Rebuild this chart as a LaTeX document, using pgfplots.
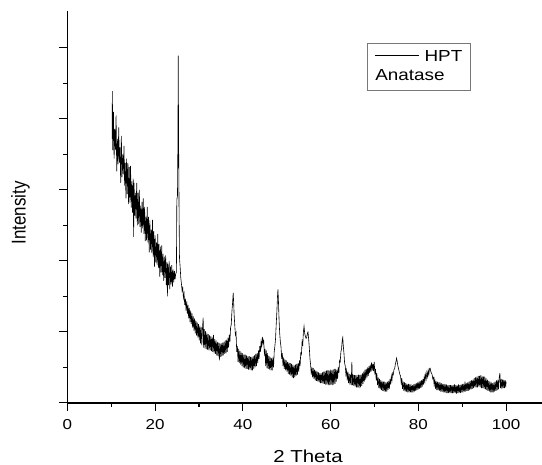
\documentclass[border=0pt]{standalone}
\usepackage{fontspec}
\setmainfont{Liberation Sans}[FakeStretch=1.18]
\newfontfamily\ylabfont{Liberation Sans}
\usepackage{graphicx}
\usepackage{pgfplots}
\usepackage{pgfplotstable}
\pgfplotsset{compat=1.18}

% HPT diffractogram (noise band written as upper/lower points)
\pgfplotstableread{
t I
10.20 372
10.25 439
10.35 356
10.50 410
10.65 344
10.80 386
10.95 356
11.10 405
11.25 326
11.40 372
11.55 336
11.70 388
11.85 338
12.00 360
12.15 310
12.30 376
12.45 318
12.60 350
12.75 322
12.90 362
13.05 306
13.20 338
13.35 288
13.50 344
13.65 294
13.80 338
13.95 280
14.10 332
14.25 282
14.40 334
14.55 275
14.70 312
14.85 268
15.00 316
15.10 234
15.20 310
15.35 264
15.50 296
15.65 260
15.80 310
15.95 250
16.10 296
16.25 252
16.40 300
16.55 248
16.70 278
16.85 240
17.00 283
17.15 246
17.30 288
17.45 238
17.60 276
17.75 228
17.90 262
18.05 229
18.20 276
18.35 226
18.50 262
18.65 212
18.80 257
18.95 216
19.10 244
19.25 211
19.40 258
19.55 206
19.70 242
19.85 192
20.00 236
20.15 198
20.30 226
20.45 194
20.60 238
20.75 190
20.90 224
21.05 178
21.20 220
21.35 184
21.50 222
21.65 180
21.80 210
21.95 172
22.10 206
22.25 176
22.40 208
22.55 166
22.70 198
22.80 150
22.90 196
23.05 166
23.20 200
23.35 160
23.50 192
23.65 167
23.80 194
23.95 164
24.10 188
24.25 170
24.40 186
24.55 174
24.70 182
24.85 184
24.95 286
25.10 292
25.20 375
25.27 489
25.35 375
25.45 280
25.55 205
25.70 192
25.85 176
26.00 168
26.15 158
26.30 162
26.45 148
26.60 154
26.75 138
26.90 147
27.05 130
27.20 143
27.35 125
27.50 138
27.65 119
27.80 134
27.95 114
28.10 130
28.25 111
28.40 126
28.55 106
28.70 122
28.85 102
29.00 119
29.15 98
29.30 116
29.45 95
29.60 113
29.75 92
29.90 111
30.05 88
30.20 109
30.35 84
30.50 107
30.65 81
30.80 105
30.95 120
31.05 78
31.20 104
31.35 77
31.50 101
31.65 76
31.80 99
31.95 75
32.10 97
32.25 74
32.40 95
32.55 74
32.70 94
32.85 73
33.00 93
33.15 72
33.30 96
33.45 70
33.60 90
33.75 69
33.90 88
34.05 67
34.20 86
34.35 66
34.50 85
34.65 60
34.80 84
34.95 65
35.10 84
35.25 66
35.40 85
35.55 67
35.70 86
35.85 69
36.00 88
36.15 70
36.30 89
36.45 72
36.60 92
36.75 78
36.90 96
37.05 86
37.20 106
37.35 110
37.50 128
37.65 140
37.80 155
37.90 142
38.00 126
38.15 110
38.30 96
38.45 99
38.60 72
38.75 80
38.90 58
39.05 76
39.20 56
39.35 73
39.50 54
39.65 71
39.80 52
39.95 70
40.10 50
40.25 68
40.40 49
40.55 68
40.70 48
40.85 67
41.00 48
41.15 66
41.30 47
41.45 66
41.60 47
41.75 65
41.90 46
42.05 65
42.20 46
42.35 66
42.50 48
42.65 67
42.80 50
42.95 69
43.10 52
43.25 70
43.40 56
43.55 74
43.70 62
43.85 80
44.00 72
44.15 86
44.30 80
44.45 93
44.60 84
44.75 88
44.90 70
45.05 76
45.20 52
45.35 74
45.50 49
45.65 70
45.80 48
45.95 66
46.10 47
46.25 64
46.40 46
46.55 63
46.70 46
46.85 64
47.00 50
47.15 72
47.30 80
47.45 90
47.60 110
47.75 128
47.90 150
48.00 160
48.10 146
48.25 118
48.40 98
48.55 86
48.70 79
48.85 62
49.00 70
49.15 52
49.30 64
49.45 48
49.60 61
49.75 46
49.90 60
50.05 44
50.20 58
50.35 41
50.50 57
50.65 40
50.80 56
50.95 38
51.10 55
51.25 36
51.40 54
51.55 35
51.70 53
51.85 36
52.00 54
52.15 38
52.30 55
52.45 40
52.60 56
52.75 44
52.90 60
53.05 52
53.20 70
53.35 68
53.50 86
53.65 80
53.80 100
53.95 108
54.10 98
54.25 94
54.40 91
54.55 92
54.70 98
54.85 100
55.00 90
55.15 78
55.30 62
55.45 54
55.60 40
55.75 50
55.90 36
56.05 49
56.20 34
56.35 47
56.50 32
56.65 46
56.80 31
56.95 44
57.10 30
57.25 43
57.40 29
57.55 42
57.70 28
57.85 42
58.00 28
58.15 43
58.30 27
58.45 44
58.60 27
58.75 45
58.90 26
59.05 46
59.20 26
59.35 46
59.50 25
59.65 46
59.80 25
59.95 47
60.10 26
60.25 46
60.40 25
60.55 47
60.70 26
60.85 48
61.00 27
61.15 48
61.30 30
61.45 47
61.60 34
61.75 50
61.90 42
62.05 60
62.20 58
62.35 72
62.50 76
62.65 88
62.78 92
62.90 80
63.05 70
63.20 56
63.35 52
63.50 40
63.65 46
63.80 32
63.95 44
64.10 28
64.25 41
64.40 26
64.55 40
64.70 25
64.85 58
65.00 25
65.15 40
65.30 24
65.45 39
65.60 23
65.75 39
65.90 22
66.05 39
66.20 22
66.35 40
66.50 21
66.65 39
66.80 22
66.95 40
67.10 24
67.25 42
67.40 27
67.55 44
67.70 30
67.85 47
68.00 33
68.15 48
68.30 36
68.45 50
68.60 38
68.75 52
68.90 42
69.05 54
69.20 44
69.35 57
69.50 46
69.65 55
69.80 45
69.95 58
70.10 40
70.25 48
70.40 32
70.55 42
70.70 25
70.85 36
71.00 21
71.15 34
71.30 19
71.45 32
71.60 18
71.75 31
71.90 17
72.05 30
72.20 16
72.35 30
72.50 16
72.65 29
72.80 16
72.95 30
73.10 18
73.25 31
73.40 20
73.55 34
73.70 26
73.85 38
74.00 32
74.15 42
74.30 40
74.45 47
74.60 48
74.75 54
74.90 58
75.05 63
75.20 58
75.35 52
75.50 48
75.65 44
75.80 40
75.95 38
76.10 28
76.25 35
76.40 20
76.55 30
76.70 17
76.85 29
77.00 16
77.15 28
77.30 16
77.45 27
77.60 15
77.75 27
77.90 15
78.05 26
78.20 15
78.35 26
78.50 15
78.65 25
78.80 15
78.95 26
79.10 16
79.25 27
79.40 17
79.55 28
79.70 18
79.85 29
80.00 19
80.15 30
80.30 20
80.45 31
80.60 21
80.75 32
80.90 23
81.05 34
81.20 26
81.35 37
81.50 30
81.65 40
81.80 34
81.95 43
82.10 37
82.25 46
82.40 40
82.55 48
82.70 49
82.85 44
83.00 42
83.15 40
83.30 34
83.45 36
83.60 26
83.75 33
83.90 20
84.05 31
84.20 18
84.35 30
84.50 18
84.65 29
84.80 17
84.95 29
85.10 16
85.25 28
85.40 16
85.55 27
85.70 15
85.85 27
86.00 15
86.15 26
86.30 14
86.45 26
86.60 14
86.75 25
86.90 14
87.05 25
87.20 14
87.35 25
87.50 14
87.65 25
87.80 14
87.95 25
88.10 14
88.25 26
88.40 14
88.55 25
88.70 13
88.85 25
89.00 14
89.15 26
89.30 14
89.45 25
89.60 14
89.75 26
89.90 15
90.05 27
90.20 15
90.35 27
90.50 16
90.65 30
90.80 16
90.95 28
91.10 17
91.25 29
91.40 17
91.55 30
91.70 18
91.85 31
92.00 19
92.15 32
92.30 20
92.45 33
92.60 21
92.75 35
92.90 22
93.05 36
93.20 22
93.35 37
93.50 22
93.65 38
93.80 23
93.95 38
94.10 22
94.25 39
94.40 21
94.55 38
94.70 21
94.85 37
95.00 20
95.15 37
95.30 19
95.45 35
95.60 18
95.75 33
95.90 17
96.05 31
96.20 16
96.35 30
96.50 15
96.65 29
96.80 15
96.95 28
97.10 15
97.25 29
97.40 16
97.55 30
97.70 17
97.85 32
98.00 18
98.15 33
98.30 19
98.45 36
98.60 42
98.75 21
98.90 34
99.05 20
99.20 33
99.35 21
99.50 33
99.65 21
99.80 32
99.95 22
100.00 30
}\hpt

\begin{document}
\begin{tikzpicture}
\begin{axis}[
    width=356pt, height=294pt, scale only axis,
    xmin=0, xmax=108.2,
    ymin=0, ymax=552,
    axis lines*=left,
    axis line style={line width=0.9pt},
    tick align=outside,
    tick style={black, line width=0.8pt},
    major tick length=6pt, minor tick length=3pt,
    xtick={0,20,...,100}, minor x tick num=1,
    ytick={0,100,...,500}, minor y tick num=1,
    yticklabels={},
    /pgf/number format/assume math mode=true,
    xticklabel style={font=\fontsize{10.8}{13}\selectfont, yshift=-3pt},
    xlabel={2 Theta},
    xlabel style={at={(axis description cs:0.507,0)}, anchor=base,
        yshift=-45pt, font=\fontsize{13}{15}\selectfont},
    ylabel={\scalebox{1}[1.18]{\ylabfont Intensity}},
    ylabel style={at={(axis description cs:-0.0988,0.485)}, anchor=center,
        font=\fontsize{12.7}{15}\selectfont},
]
\addplot[black, line width=0.45pt] table[x=t, y=I] {\hpt};

\node[anchor=north west, draw={rgb,255:red,120;green,120;blue,120},
      line width=0.6pt, inner xsep=6pt, inner ysep=3pt,
      font=\fontsize{12}{14.5}\selectfont]
  at (axis description cs:0.631,0.918)
  {\begin{tabular}{@{}l@{}}\rule[0.33em]{33pt}{0.5pt}\hspace{4pt}HPT\\ Anatase\end{tabular}};
\end{axis}
\pgfresetboundingbox
\path[use as bounding box]
  ([shift={(-50.55pt,-46.5pt)}]current axis.south west)
  rectangle ([shift={(0pt,8.25pt)}]current axis.north east);
\end{tikzpicture}
\end{document}
